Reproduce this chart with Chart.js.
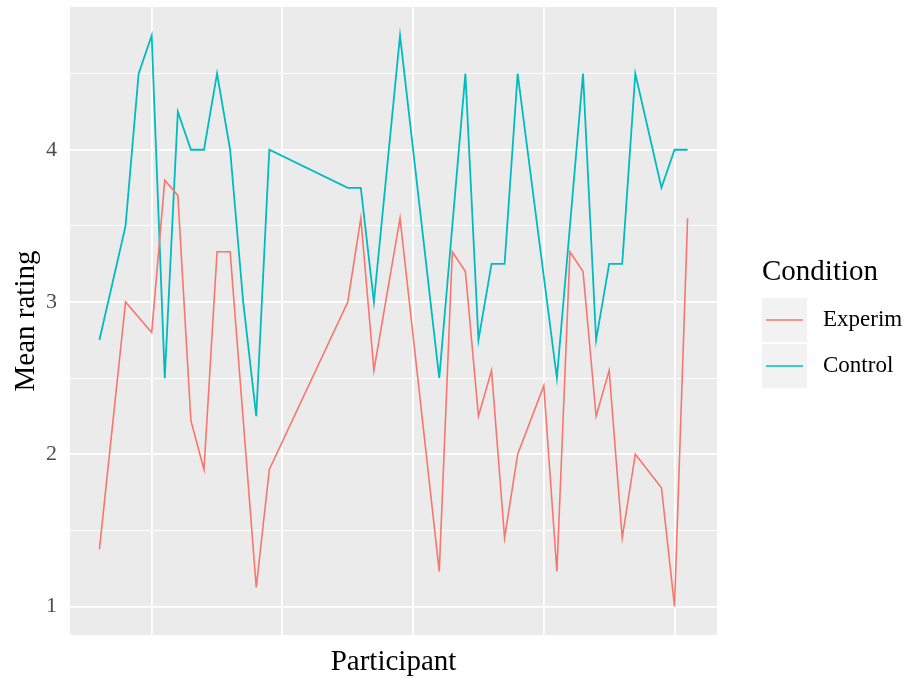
<!DOCTYPE html>
<html>
<head>
<meta charset="utf-8">
<script src="https://cdn.jsdelivr.net/npm/chart.js@4"></script>
<style>
  html, body { margin: 0; padding: 0; background: #fff; }
  #wrap { width: 906px; height: 682px; }
</style>
</head>
<body>
<div id="wrap"><canvas id="ratingChart" width="906" height="682"></canvas></div>
<script>
// participant ids that show a vertex in at least one line
const participants = [6, 8, 9, 10, 11, 12, 13, 14, 15, 16, 17, 18, 19, 25, 26, 27, 29, 32, 33, 34,
  35, 36, 37, 38, 40, 41, 42, 43, 44, 45, 46, 47, 49, 50, 51];

// mean ratings (null = no visible vertex there)
const experimRatings = [1.375, 3.0, null, 2.8, 3.8, 3.7, 2.22, 1.9, 3.33, 3.33, null, 1.125, 1.9, 3.0, 3.55, 2.55, 3.55, 1.23, 3.33, 3.2,
  2.25, 2.55, 1.45, 2.0, 2.45, 1.23, 3.33, 3.2, 2.25, 2.55, 1.45, 2.0, 1.78, 1.0, 3.55];
const controlRatings = [2.75, 3.5, 4.5, 4.75, 2.5, 4.25, 4.0, 4.0, 4.5, 4.0, 3.0, 2.25, 4.0, 3.75, 3.75, 3.0, 4.75, 2.5, null, 4.5,
  2.75, 3.25, 3.25, 4.5, null, 2.5, null, 4.5, 2.75, 3.25, 3.25, 4.5, 3.75, 4.0, 4.0];

const conditionLabels = ['Experim', 'Control'];
const xBreaks = [10, 20, 30, 40, 50];
const yBreaks = [1, 1.5, 2, 2.5, 3, 3.5, 4, 4.5];

const RED = '#F8766D';
const TEAL = '#00BCC1';
const SERIF = '"Liberation Serif", "DejaVu Serif", serif';

function toPoints(values) {
  return participants.map((p, i) => ({ x: p, y: values[i] }));
}

// axis titles and the ggplot-style legend
const decorations = {
  id: 'decorations',
  afterDraw(chart) {
    const ctx = chart.ctx;
    const area = chart.chartArea;
    ctx.save();
    ctx.fillStyle = '#000';
    ctx.font = '29px ' + SERIF;
    ctx.textAlign = 'center';
    ctx.textBaseline = 'middle';
    ctx.fillText('Participant', (area.left + area.right) / 2, 662);

    ctx.save();
    ctx.translate(26, (area.top + area.bottom) / 2);
    ctx.rotate(-Math.PI / 2);
    ctx.fillText('Mean rating', 0, 0);
    ctx.restore();

    // legend
    ctx.textAlign = 'left';
    ctx.fillText('Condition', 762, 272);
    const colors = [RED, TEAL];
    conditionLabels.forEach((label, i) => {
      const cy = 320 + i * 46;
      ctx.fillStyle = '#F2F2F2';
      ctx.fillRect(762, cy - 22, 45, 44);
      ctx.strokeStyle = colors[i];
      ctx.lineWidth = 1.7;
      ctx.beginPath();
      ctx.moveTo(766, cy);
      ctx.lineTo(803, cy);
      ctx.stroke();
      ctx.fillStyle = '#000';
      ctx.font = '23px ' + SERIF;
      ctx.fillText(label, 823, cy);
    });
    ctx.restore();
  }
};

// grey panel behind the grid
const panel = {
  id: 'panel',
  beforeDraw(chart) {
    const a = chart.chartArea;
    chart.ctx.save();
    chart.ctx.fillStyle = '#EBEBEB';
    chart.ctx.fillRect(a.left, a.top, a.right - a.left, a.bottom - a.top);
    chart.ctx.restore();
  }
};

new Chart(document.getElementById('ratingChart'), {
  type: 'line',
  data: {
    datasets: [
      {
        label: conditionLabels[0],
        data: toPoints(experimRatings),
        borderColor: RED,
        borderWidth: 1.6,
        pointRadius: 0,
        spanGaps: true,
        tension: 0
      },
      {
        label: conditionLabels[1],
        data: toPoints(controlRatings),
        borderColor: TEAL,
        borderWidth: 1.8,
        pointRadius: 0,
        spanGaps: true,
        tension: 0
      }
    ]
  },
  options: {
    responsive: false,
    animation: false,
    layout: { padding: { top: 7, right: 189, left: 0, bottom: 0 } },
    plugins: {
      legend: { display: false },
      tooltip: { enabled: false }
    },
    scales: {
      x: {
        type: 'linear',
        min: 3.75,
        max: 53.25,
        border: { display: false },
        afterBuildTicks: scale => { scale.ticks = xBreaks.map(v => ({ value: v })); },
        afterFit: scale => { scale.height = 47; scale.paddingLeft = 0; scale.paddingRight = 0; },
        grid: { color: '#FFFFFF', lineWidth: 1.8, drawTicks: false },
        ticks: { display: false }
      },
      y: {
        type: 'linear',
        min: 0.8125,
        max: 4.9375,
        border: { display: false },
        afterBuildTicks: scale => { scale.ticks = yBreaks.map(v => ({ value: v })); },
        afterFit: scale => { scale.width = 70; scale.paddingTop = 0; scale.paddingBottom = 0; },
        grid: {
          color: '#FFFFFF',
          lineWidth: c => (c.tick && c.tick.value % 1 === 0 ? 1.8 : 1.1),
          drawTicks: false
        },
        ticks: {
          padding: 13,
          color: '#4D4D4D',
          font: { family: SERIF, size: 22 },
          callback: v => (v % 1 === 0 ? String(v) : '')
        }
      }
    }
  },
  plugins: [panel, decorations]
});
</script>
</body>
</html>
